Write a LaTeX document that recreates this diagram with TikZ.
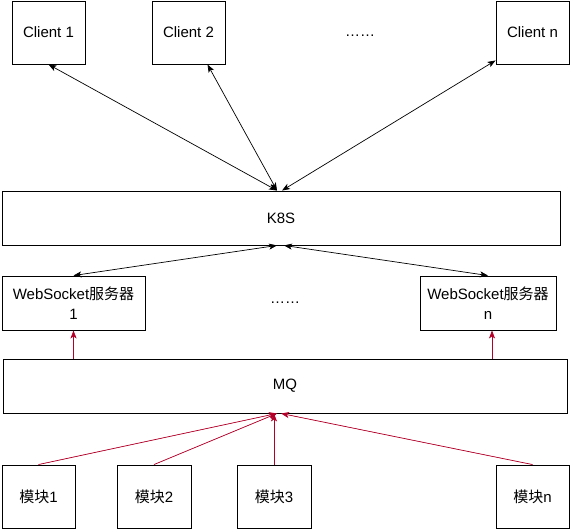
\documentclass[tikz,border=0pt]{standalone}
\usepackage{fontspec}
\usepackage{xcolor}
\setmainfont{Liberation Sans}
\newfontfamily\cjk{Noto Sans CJK SC}
\newcommand{\zh}[1]{{\cjk #1}}
\definecolor{mqred}{HTML}{B20028}
\usetikzlibrary{arrows.meta}

\begin{document}
\begin{tikzpicture}[x=1pt,y=-1pt,line width=0.9pt,
  >={Stealth[length=8pt,width=6pt,inset=2pt]},
  box/.style={draw,inner sep=0pt,align=center,font=\fontsize{15}{20}\selectfont},
  label/.style={inner sep=0pt,font=\fontsize{15}{20}\selectfont},
  link/.style={<->,line width=0.7pt},
  feed/.style={->,line width=0.7pt,draw=mqred,fill=mqred}]
\useasboundingbox (0,0) rectangle (570,529);
\node[box,minimum width=73pt,minimum height=63pt] (client1) at (48.5,32.5) {Client 1};
\node[box,minimum width=73pt,minimum height=63pt] (client2) at (188.5,32.5) {Client 2};
\node[label] (dotsa) at (360,36) {……};
\node[box,minimum width=73pt,minimum height=63pt] (clientn) at (532.5,32.5) {Client n};
\node[box,minimum width=558pt,minimum height=54pt] (k8s) at (281,218) {K8S};
\node[box,minimum width=143pt,minimum height=54pt] (ws1) at (73.5,303) {WebSocket\zh{服务器}\\1};
\node[label] (dotsb) at (285,303) {……};
\node[box,minimum width=136pt,minimum height=54pt] (wsn) at (488,303) {WebSocket\zh{服务器}\\n};
\node[box,minimum width=564pt,minimum height=54pt] (mq) at (285,386) {MQ};
\node[box,minimum width=73pt,minimum height=63pt] (m1) at (38.5,496.5) {\zh{模块}1};
\node[box,minimum width=74pt,minimum height=63pt] (m2) at (154,496.5) {\zh{模块}2};
\node[box,minimum width=74pt,minimum height=63pt] (m3) at (274,496.5) {\zh{模块}3};
\node[box,minimum width=73pt,minimum height=63pt] (mn) at (532.5,496.5) {\zh{模块}n};
\draw[link] (client1.south) -- ([xshift=-4pt]k8s.north);
\draw[link] ([xshift=19pt]client2.south) -- ([xshift=-4pt]k8s.north);
\draw[link] ([yshift=4pt]clientn.south west) -- ([xshift=1pt]k8s.north);
\draw[link] ([xshift=-4pt]k8s.south) -- (ws1.north);
\draw[link] ([xshift=3pt]k8s.south) -- (wsn.north);
\draw[feed] (ws1.south |- mq.north) -- (ws1.south);
\draw[feed] ([xshift=4pt]wsn.south |- mq.north) -- ([xshift=4pt]wsn.south);
\draw[feed] (m1.north) -- ([xshift=-8pt]mq.south);
\draw[feed] (m2.north) -- ([xshift=-8pt]mq.south);
\draw[feed] (m3.north) -- (m3.north |- mq.south);
\draw[feed] (mn.north) -- ([xshift=-4pt]mq.south);
\end{tikzpicture}
\end{document}
